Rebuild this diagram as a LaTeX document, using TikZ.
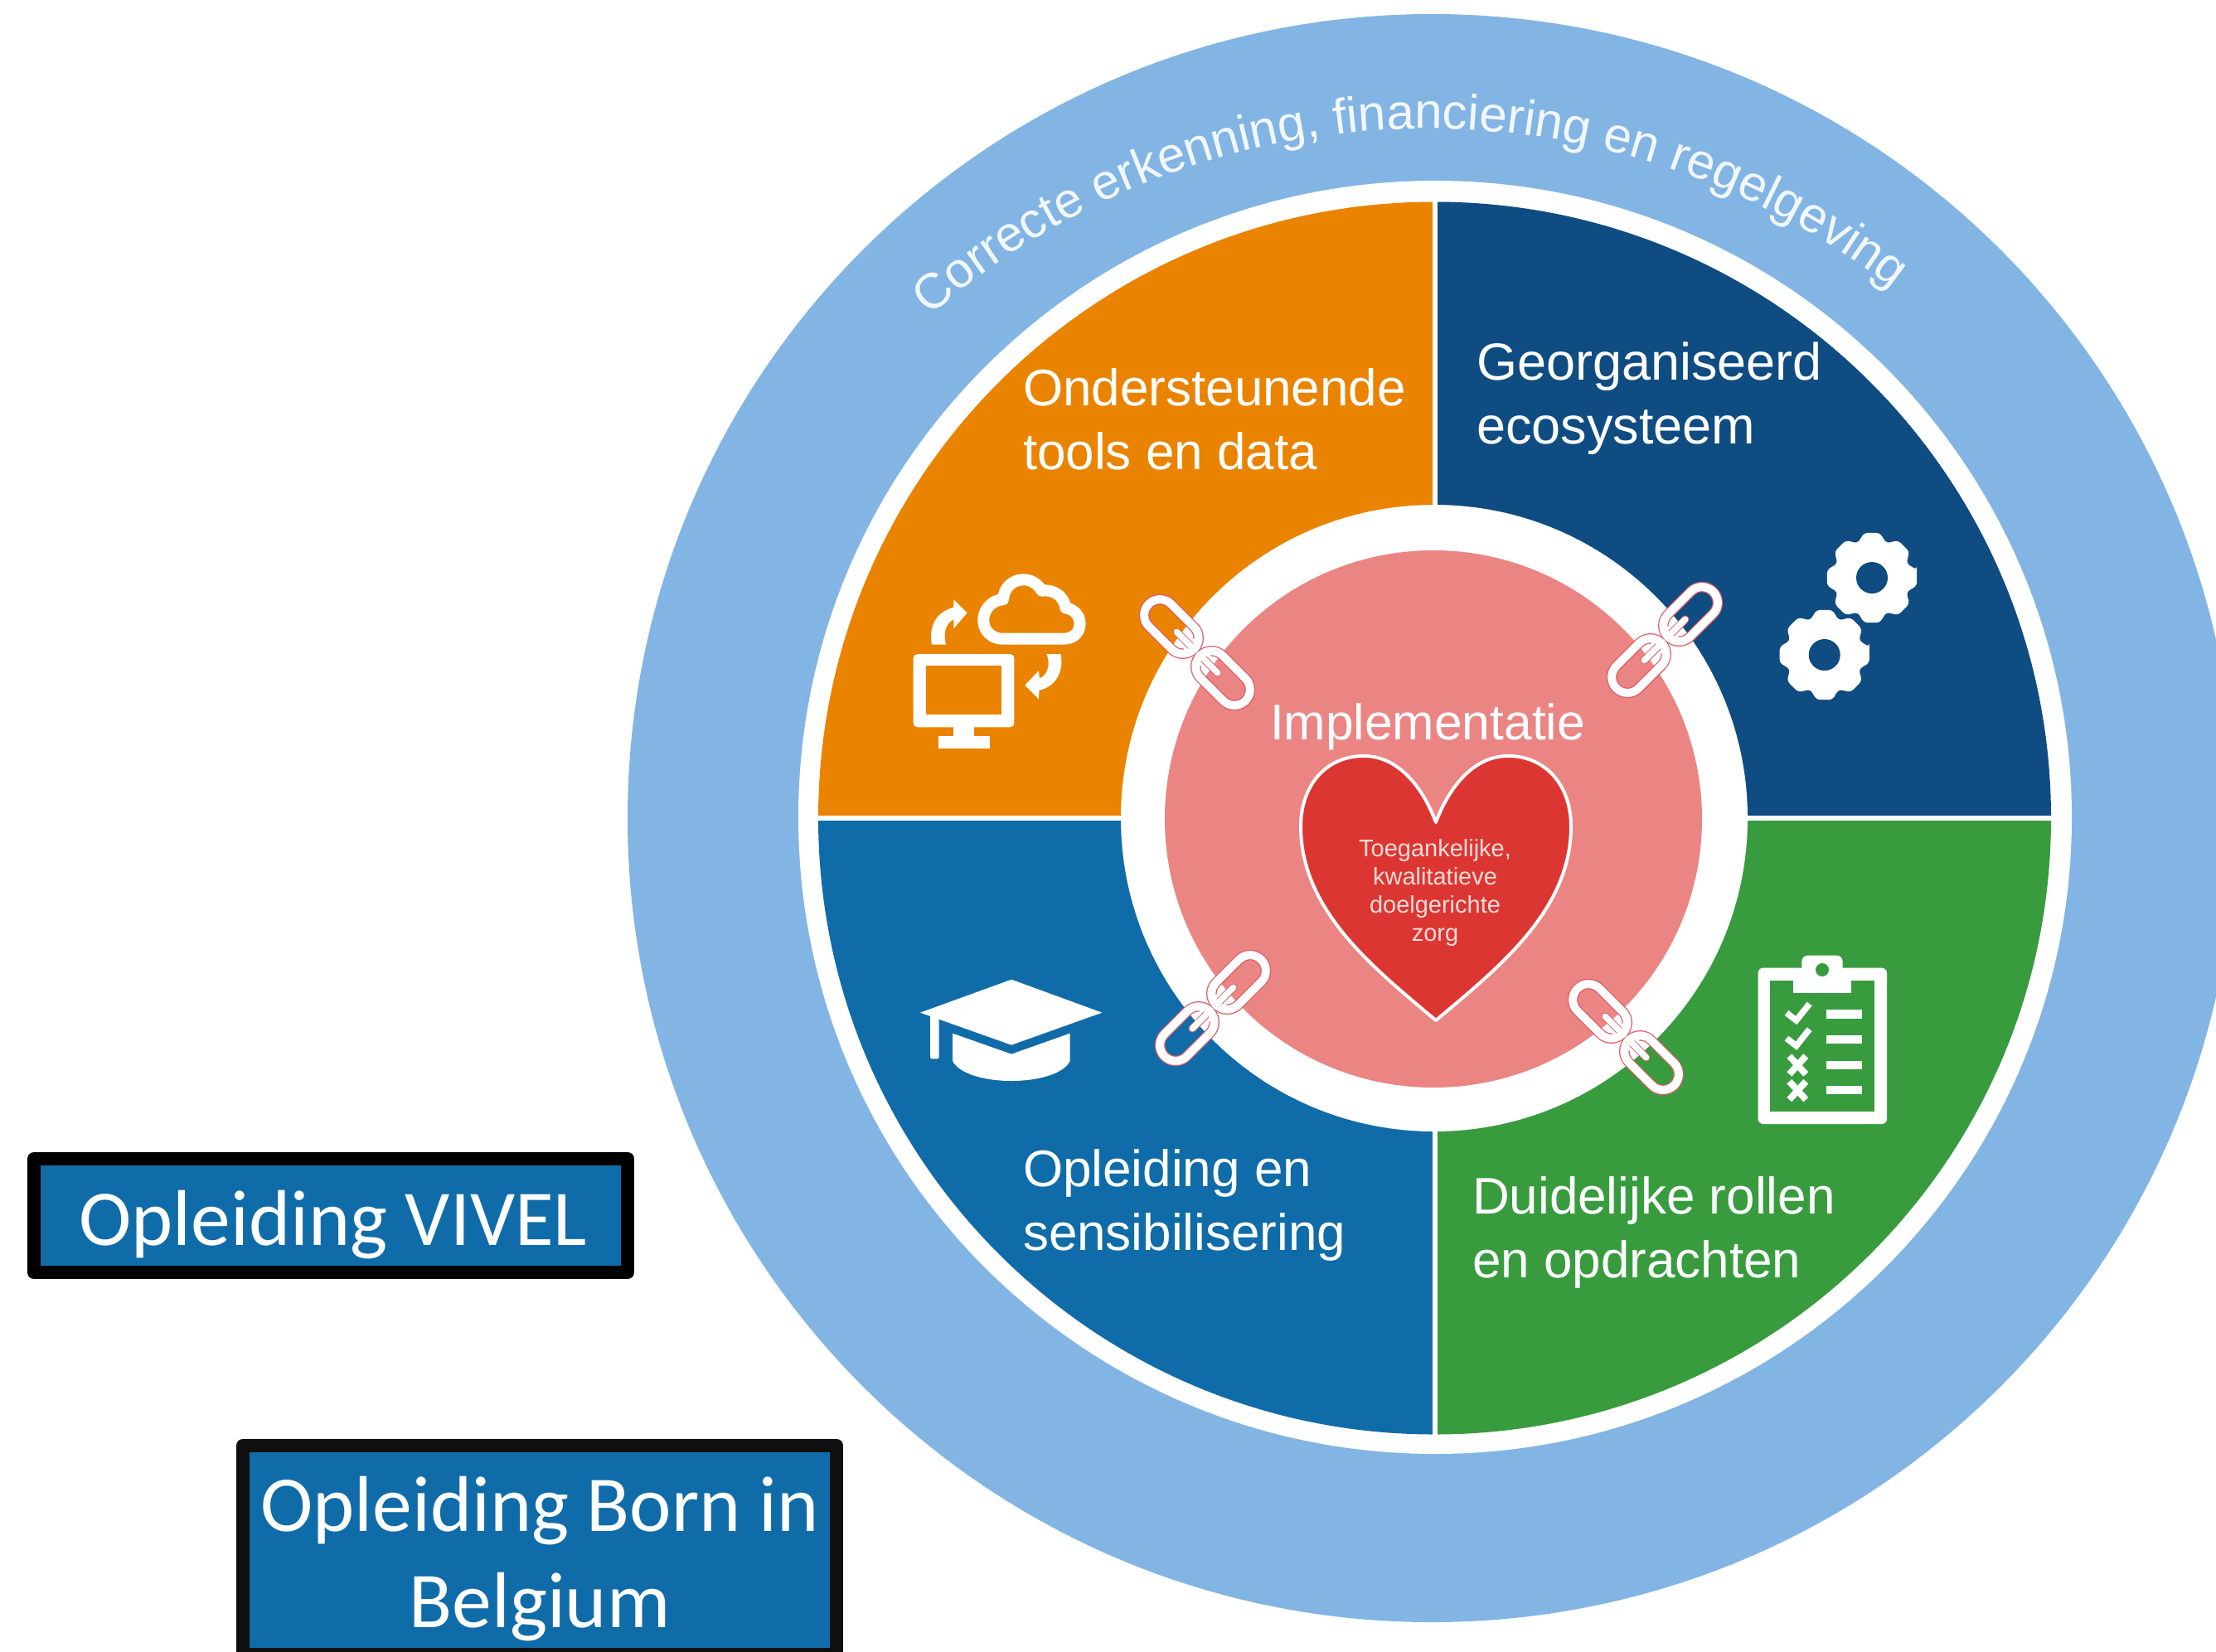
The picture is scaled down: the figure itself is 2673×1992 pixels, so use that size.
\documentclass[tikz,border=0pt]{standalone}
\usepackage{fontspec}
\setmainfont{Liberation Sans}
\newfontfamily\calibrifont{Carlito}
\usetikzlibrary{decorations.text}
\definecolor{ringblue}{HTML}{82B5E4}
\definecolor{qorange}{HTML}{EA8300}
\definecolor{qnavy}{HTML}{0F4C81}
\definecolor{qblue}{HTML}{106CA8}
\definecolor{qgreen}{HTML}{389C3F}
\definecolor{qpink}{HTML}{EB8584}
\definecolor{qred}{HTML}{DC3632}
\definecolor{linkred}{HTML}{DE5A60}
\definecolor{hearttext}{HTML}{FADCDA}
\definecolor{ringtext}{HTML}{F2F7FC}
\definecolor{boxedge}{HTML}{0F0F0F}
\newcommand\ringfont{\fontsize{60}{70}\selectfont\color{ringtext}}
\newcommand\leftlines[1]{\vbox{\halign{##\hfil\cr #1\crcr}}}
\newcommand\midlines[1]{\vbox{\halign{\hfil##\hfil\cr #1\crcr}}}
\tikzset{
  x=1pt,y=-1pt,
  quadtext/.style={inner sep=0pt,outer sep=0pt,anchor=base west,text=white,font=\fontsize{62}{77}\selectfont},
  boxnode/.style={draw,line width=16pt,line join=round,fill=qblue,text=white,inner xsep=0pt,inner ysep=0pt,outer sep=0pt,
    anchor=base,minimum width=716pt,font=\fontsize{95.5}{116}\selectfont\calibrifont},
  zoomthird/.style={x=0.33333pt,y=-0.33333pt},
  zoomwide/.style={x=0.38265pt,y=-0.33333pt},
  gearicon/.pic={
    \fill[white,rounded corners=4pt] (-10:55) \foreach \k in {0,...,7}{
       -- ({\k*45-10}:55) -- ({\k*45+10}:55) -- ({\k*45+22.5}:45)} -- cycle;
    \fill[qnavy] (0,0) circle[radius=19pt];
  },
  chainicon/.pic={
    \foreach \s in {1,-1}{
      \draw[linkred,line width=12.5pt,rounded corners=19pt] ({\s*44-38.5},-19) rectangle ({\s*44+38.5},19);
    }
    \foreach \s in {1,-1}{
      \draw[white,line width=10pt,rounded corners=19pt] ({\s*44-38.5},-19) rectangle ({\s*44+38.5},19);
      \fill[white] ({\s*8},-15) -- ({\s*8},15) -- ({\s*23},0) -- cycle;
    }
    \foreach \s in {1,-1}{
      \draw[linkred,line width=9.5pt,line cap=round] ({\s*12},0) -- ({\s*35},0);
    }
    \foreach \s in {1,-1}{
      \draw[white,line width=7.5pt,line cap=round] ({\s*4},0) -- ({\s*35},0);
    }
  },
}
\begin{document}
\begin{tikzpicture}
\useasboundingbox (0,0) rectangle (2673,1992);
\clip (0,0) rectangle (2673,1992);
\fill[white] (0,0) rectangle (2673,1992);

% rings
\fill[ringblue] (1727,987) circle[radius=970pt];
\fill[white] (1731,986) circle[radius=768pt];

% quadrants
\begin{scope}
  \clip (1730.5,987) circle[radius=743.5pt];
  \fill[qorange] (900,100) rectangle (1731,987);
  \fill[qnavy] (1731,100) rectangle (2600,987);
  \fill[qblue] (900,987) rectangle (1731,1850);
  \fill[qgreen] (1731,987) rectangle (2600,1850);
\end{scope}
\fill[white] (1728,230) rectangle (1734,1745);
\fill[white] (975,984) rectangle (2485,990);

% centre
\fill[white] (1730,987) circle[radius=378pt];
\fill[qpink] (1729,988) circle[radius=324pt];

% ring text
\path[decorate,decoration={text along path,text align=center,
   text={|\ringfont|Correcte erkenning, financiering en regelgeving}}]
   plot[domain=133.6:49.6,samples=80] ({1722+910*cos(\x)},{1065-910*sin(\x)});

% heart
\draw[fill=qred,draw=white,line width=4pt,line join=round]
  (1732,1231) .. controls (1660,1170) and (1569,1100) .. (1569,997)
  .. controls (1569,947) and (1600,912) .. (1645,912)
  .. controls (1685,912) and (1715,947) .. (1732,992)
  .. controls (1749,947) and (1779,912) .. (1819,912)
  .. controls (1864,912) and (1895,947) .. (1895,997)
  .. controls (1895,1100) and (1804,1170) .. (1732,1231) -- cycle;

% quadrant labels
\node[quadtext] (tools) at (1234,566) {\leftlines{Ondersteunende\cr tools en data}};
\node[quadtext,font=\fontsize{63}{77}\selectfont] (eco) at (1781,535) {\leftlines{Georganiseerd\cr ecosysteem}};
\node[quadtext] (opl) at (1234,1508) {\leftlines{Opleiding en\cr sensibilisering}};
\node[quadtext] (rollen) at (1776,1541) {\leftlines{Duidelijke rollen\cr en opdrachten}};
\node[quadtext,anchor=base,font=\fontsize{60.5}{72}\selectfont] (impl) at (1722,892) {Implementatie};
\node[inner sep=0pt,outer sep=0pt,anchor=base,text=hearttext,font=\fontsize{29}{34}\selectfont] (zorg) at (1731,1135)
  {\midlines{Toegankelijke,\cr kwalitatieve\cr doelgerichte\cr zorg}};

% chains
\pic[rotate=-45] at (1444,787) {chainicon};
\pic[rotate=45] at (2008,772) {chainicon};
\pic[rotate=45] at (1463,1216) {chainicon};
\pic[rotate=-45] at (1961,1251) {chainicon};

% cloud + monitor icon
\begin{scope}[shift={(1050,640)},zoomwide]
  \draw[white,line width=14pt,line join=round]
    (415,392) -- (610,392) .. controls (640,392) and (660,368) .. (660,338)
    .. controls (660,305) and (640,285) .. (615,280)
    .. controls (610,240) and (580,212) .. (540,218)
    .. controls (525,190) and (505,178) .. (482,178)
    .. controls (445,178) and (420,210) .. (418,250)
    .. controls (385,250) and (356,285) .. (356,325)
    .. controls (356,365) and (385,392) .. (415,392) -- cycle;
  \fill[white] (193,413) .. controls (183,350) and (205,295) .. (262,278) -- (262,250) -- (305,298) -- (262,355) -- (262,322)
    .. controls (238,335) and (228,370) .. (238,413) -- cycle;
  \fill[white] (600,447) .. controls (610,510) and (585,565) .. (532,578) -- (530,610) -- (487,560) -- (530,508) -- (533,535)
    .. controls (555,525) and (570,490) .. (555,447) -- cycle;
  \fill[white,rounded corners=5pt] (135,447) rectangle (453,712);
  \fill[qorange] (175,490) rectangle (413,667);
  \fill[white] (262,705) rectangle (327,750);
  \fill[white] (215,745) rectangle (375,790);
\end{scope}

% gears
\pic at (2258,697) {gearicon};
\pic at (2200.7,790) {gearicon};

% graduation cap
\begin{scope}[shift={(1050,1120)},zoomthird]
  \fill[white] (510,185) -- (838,305) -- (510,422) -- (180,305) -- cycle;
  \fill[white,rounded corners=2pt] (216,312) -- (216,472) -- (248,472) -- (248,325) -- cycle;
  \fill[white] (297,380) -- (510,455) -- (722,380) -- (722,480)
     .. controls (700,525) and (610,552) .. (510,552)
     .. controls (410,552) and (320,525) .. (297,480) -- cycle;
\end{scope}

% clipboard
\begin{scope}[shift={(1850,1130)},zoomthird]
  \fill[white,rounded corners=6pt] (812,113) rectangle (1278,678);
  \fill[white,rounded corners=7pt] (970,130) -- (970,68) -- (1118,68) -- (1118,130) -- cycle;
  \fill[qgreen] (855,158) rectangle (1233,632);
  \fill[white] (938,150) rectangle (1150,205);
  \fill[qgreen] (1044,120) circle[radius=8pt];
  \foreach \yy in {265,357,450,540}{
    \fill[white] (1060,\yy) rectangle (1187,\yy+31);
  }
  \foreach \dy in {0,92}{
    \draw[white,line width=7.5pt] (915,{276+\dy}) -- (950,{303+\dy}) -- (998,{243+\dy});
  }
  \foreach \yy in {465,557}{
    \draw[white,line width=8pt] (925,\yy-33) -- (985,\yy+33);
    \draw[white,line width=8pt] (985,\yy-33) -- (925,\yy+33);
  }
\end{scope}

% boxes
\node[boxnode,draw=black,text height=104pt,text depth=33pt] (vivel) at (399,1502) {\hspace*{6pt}Opleiding VIVEL};
\node[boxnode,draw=boxedge,text height=219pt,text depth=33pt] (born) at (651,1963) {\midlines{Opleiding Born in\cr Belgium}};
\end{tikzpicture}
\end{document}
